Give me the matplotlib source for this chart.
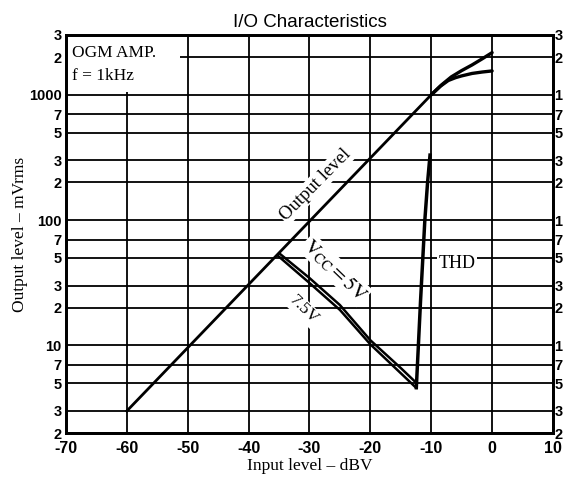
import numpy as np
import matplotlib
matplotlib.use("Agg")
import matplotlib.pyplot as plt
from matplotlib.patches import Rectangle

# datos
out_x = [-60, -10]
out_y = [3.0, 1000.0]

# saturacion (dos curvas)
sat_hi_x = [-10, -8.3, -6.7, -5.0, -3.3, -1.6, 0]
sat_hi_y = [1000, 1200, 1390, 1560, 1730, 1940, 2170]
sat_lo_x = [-10, -8.5, -7.2, -6.0, -5.0, -3.3, -1.6, 0]
sat_lo_y = [1000, 1170, 1300, 1370, 1415, 1480, 1520, 1550]

# THD
thd5_x = [-34.9, -30, -25, -20, -15, -12.4]
thd5_y = [54, 34.5, 21, 11.0, 6.6, 5.0]
thd75_x = [-35.2, -30, -25, -20, -15, -12.5]
thd75_y = [52, 31.5, 19.2, 10.2, 6.0, 4.6]
thd_rise_x = [-12.45, -11.75, -11.05, -10.6, -10.2]
thd_rise_y = [4.6, 23, 100, 200, 330]

yticks = [2, 3, 5, 7, 10, 20, 30, 50, 70, 100, 200, 300, 500, 700, 1000, 2000, 3000]
ylab_left = ['2', '3', '5', '7', '10', '2', '3', '5', '7', '100', '2', '3', '5', '7', '1000', '2', '3']
ylab_right = ['2', '3', '5', '7', '1', '2', '3', '5', '7', '1', '2', '3', '5', '7', '1', '2', '3']
xticks = [-70, -60, -50, -40, -30, -20, -10, 0, 10]
xlabels = ['-70', '-60', '-50', '-40', '-30', '-20', '-10', '0', '10']

plt.rcParams['mathtext.fontset'] = 'stix'

fig = plt.figure(figsize=(5.66, 4.86), dpi=100)
ax = fig.add_axes([0.1166, 0.109, 0.8604, 0.819])

ax.set_yscale('log')
ax.set_xlim(-70, 10)
ax.set_ylim(2, 3000)

# rejilla
for v in yticks:
    ax.axhline(v, color='black', lw=1.3, zorder=1)
for v in xticks:
    ax.axvline(v, color='black', lw=1.3, zorder=1)

ax.set_xticks(xticks)
ax.set_xticklabels(xlabels, fontsize=11.5, fontweight='bold', family='Liberation Sans')
ax.set_yticks(yticks)
ax.set_yticklabels(ylab_left, fontsize=10.5, fontweight='bold', family='Liberation Sans')
ax.yaxis.set_minor_locator(matplotlib.ticker.NullLocator())
ax.tick_params(axis='y', length=0, pad=3)
ax.tick_params(axis='x', length=0, pad=6)

ax2 = ax.twinx()
ax2.set_yscale('log')
ax2.set_ylim(2, 3000)
ax2.set_yticks(yticks)
ax2.set_yticklabels(ylab_right, fontsize=10.5, fontweight='bold', family='Liberation Sans')
ax2.yaxis.set_minor_locator(matplotlib.ticker.NullLocator())
ax2.tick_params(length=0, pad=1)

for a in (ax, ax2):
    for s in a.spines.values():
        s.set_linewidth(2)

# curvas
ax.plot(out_x, out_y, color='black', lw=2, zorder=3)
ax.plot(sat_hi_x, sat_hi_y, color='black', lw=2.4, zorder=3, solid_capstyle='round')
ax.plot(sat_lo_x, sat_lo_y, color='black', lw=2.4, zorder=3, solid_capstyle='round')
ax.plot(thd5_x, thd5_y, color='black', lw=1.8, zorder=3)
ax.plot(thd75_x, thd75_y, color='black', lw=1.8, zorder=3)
ax.plot(thd_rise_x, thd_rise_y, color='black', lw=2.5, zorder=3)

# caja OGM AMP
ax.add_patch(Rectangle((-70, 1060), 18.8, 1940, facecolor='white', edgecolor='none', zorder=2))
ax.text(-69, 2150, 'OGM AMP.', family='Liberation Serif', fontsize=12.5, va='center', ha='left', zorder=4)
ax.text(-69, 1400, 'f = 1kHz', family='Liberation Serif', fontsize=12.5, va='center', ha='left', zorder=4)

wb = dict(facecolor='white', edgecolor='none', pad=1)
ax.text(-29.0, 192, 'Output level', family='Liberation Serif', fontsize=13.5, rotation=45.5,
        ha='center', va='center', rotation_mode='anchor', bbox=wb, zorder=2)
ax.text(-25.8, 40, r'$\mathrm{V_{CC} = 5V}$', fontsize=14.5, rotation=-44,
        ha='center', va='center', rotation_mode='anchor', bbox=wb, zorder=2)
ax.text(-31.0, 19.3, '7.5V', family='Liberation Serif', fontsize=12.5, rotation=-44,
        ha='center', va='center', rotation_mode='anchor', bbox=wb, zorder=2)
ax.text(-5.8, 45, 'THD', family='Liberation Serif', fontsize=13,
        ha='center', va='center', bbox=wb, zorder=2)

ax.set_xlabel('Input level – dBV', family='Liberation Serif', fontsize=12.5, labelpad=1)
ax.set_ylabel('Output level – mVrms', family='Liberation Serif', fontsize=12.5, labelpad=1)
ax.set_title('I/O Characteristics', family='Liberation Sans', fontsize=13.5, pad=6)

fig.savefig('out.png', dpi=100)
